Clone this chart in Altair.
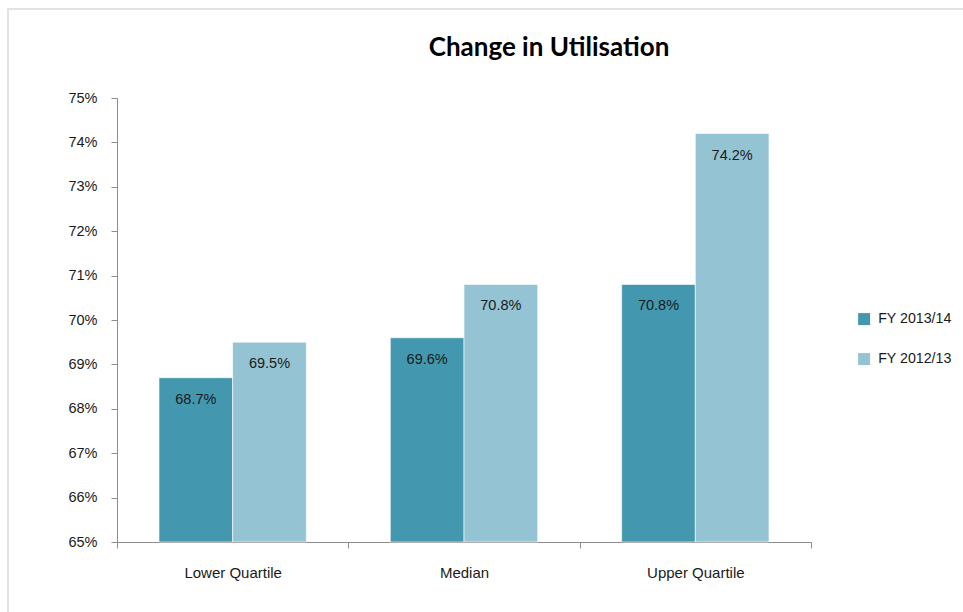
import altair as alt
import pandas as pd

# Utilisation by quartile, two financial years (values in %)
categories = ["Lower Quartile", "Median", "Upper Quartile"]
series = ["FY 2013/14", "FY 2012/13"]
fy_2013_14 = [68.7, 69.6, 70.8]
fy_2012_13 = [69.5, 70.8, 74.2]
y_ticks = [65, 66, 67, 68, 69, 70, 71, 72, 73, 74, 75]
colors = ["#4398AF", "#94C3D4"]
title_text = "Change in Utilisation"

rows = []
for i, cat in enumerate(categories):
    rows.append({"category": cat, "series": series[0], "value": fy_2013_14[i]})
    rows.append({"category": cat, "series": series[1], "value": fy_2012_13[i]})
df = pd.DataFrame(rows)
df["label"] = df["value"].map(lambda v: f"{v:.1f}%")

FONT = "Liberation Sans"
W, H = 694, 444

x_enc = alt.X(
    "category:N",
    sort=categories,
    scale=alt.Scale(paddingInner=0, paddingOuter=0),
    axis=alt.Axis(
        title=None,
        labelAngle=0,
        tickBand="extent",
        tickSize=6,
        labelPadding=17,
        labelFontSize=15,
        labelFont=FONT,
        labelColor="#1a1a1a",
        domainColor="#8c8c8c",
        tickColor="#8c8c8c",
        grid=False,
    ),
)
xo_enc = alt.XOffset(
    "series:N",
    sort=series,
    scale=alt.Scale(paddingInner=0, paddingOuter=0.57),
)
y_enc = alt.Y(
    "value:Q",
    scale=alt.Scale(domain=[65, 75], nice=False, zero=False),
    axis=alt.Axis(
        title=None,
        values=y_ticks,
        labelExpr="datum.value + '%'",
        tickSize=6,
        labelPadding=14,
        labelFontSize=14.5,
        labelFont=FONT,
        labelColor="#1a1a1a",
        domainColor="#8c8c8c",
        tickColor="#8c8c8c",
        grid=False,
    ),
)

bars = alt.Chart(df).mark_bar(
    stroke="white", strokeWidth=1, strokeOpacity=0.6
).encode(
    x=x_enc,
    xOffset=xo_enc,
    y=y_enc,
    y2=alt.datum(65),
    color=alt.Color(
        "series:N",
        sort=series,
        scale=alt.Scale(domain=series, range=colors),
        legend=alt.Legend(
            title=None,
            orient="none",
            legendX=740,
            legendY=214,
            symbolType="square",
            symbolSize=144,
            symbolStrokeWidth=0,
            labelFontSize=14.2,
            labelFont=FONT,
            labelColor="#1a1a1a",
            labelOffset=7,
            rowPadding=25,
        ),
    ),
)

labels = alt.Chart(df).mark_text(
    baseline="middle", dy=22, fontSize=14.5, font=FONT, color="#1a1a1a"
).encode(
    x=alt.X("category:N", sort=categories),
    xOffset=alt.XOffset("series:N", sort=series),
    y=alt.Y("value:Q"),
    text="label:N",
)

# chart title, centred over the chart area
title = alt.Chart(pd.DataFrame({"t": [title_text]})).mark_text(
    font="Lato", fontSize=26, fontWeight="bold", color="#000000",
    align="center", baseline="middle",
).encode(
    x=alt.value(432), y=alt.value(-50), text="t:N",
)

# light outer frame around the chart
frame = alt.Chart(pd.DataFrame({"k": [0]})).mark_rect(
    fill=None, stroke="#d9d9d9", strokeWidth=1.5
).encode(
    x=alt.value(-109), x2=alt.value(W + 200),
    y=alt.value(-89), y2=alt.value(H + 200),
)

chart = alt.layer(frame, title, bars, labels).properties(
    width=W,
    height=H,
    background="white",
    autosize=alt.AutoSizeParams(type="none"),
    padding={"left": 117, "top": 98, "right": 152, "bottom": 70},
).configure_view(strokeWidth=0)

chart.save("out.html", embed_options={"renderer": "svg", "actions": False})
